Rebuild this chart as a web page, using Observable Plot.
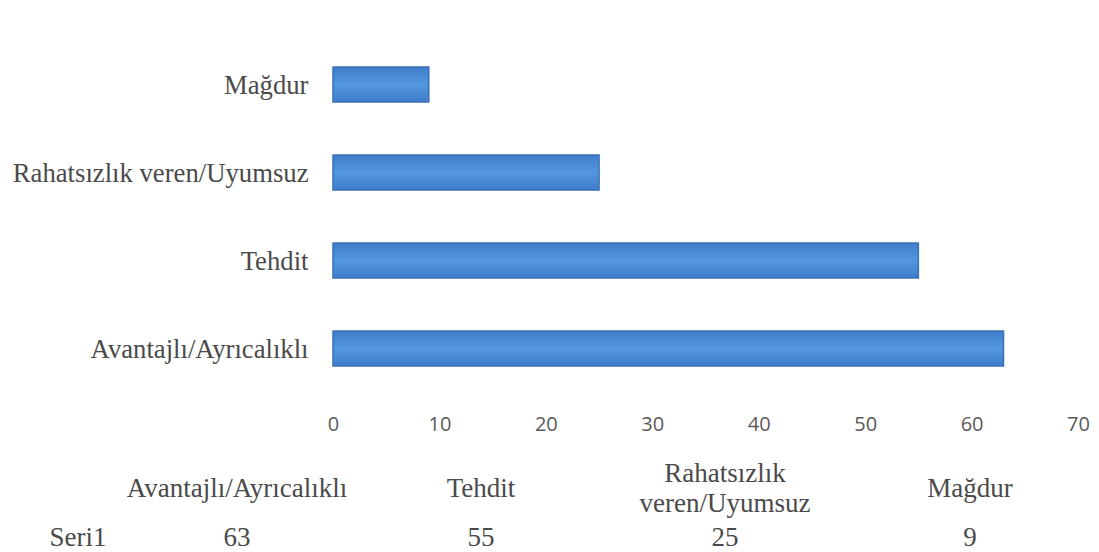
<!DOCTYPE html>
<html>
<head>
<meta charset="utf-8">
<script src="https://cdn.jsdelivr.net/npm/d3@7"></script>
<script src="https://cdn.jsdelivr.net/npm/@observablehq/plot@0.6"></script>
<style>
  body { margin: 0; background: #fff; }
  #wrap { position: relative; width: 1099px; height: 552px; overflow: hidden; }
  #chart svg g[aria-label="x-axis tick label"] { font-family: "Open Sans", sans-serif; font-size: 20px; fill: #595959; }
  #chart svg g[aria-label="y-axis tick label"] { font-family: "Liberation Serif", "DejaVu Serif", serif; font-size: 26.7px; fill: #4a4a4a; }
  #table { position: absolute; left: 0; top: 450px; width: 1099px; height: 102px;
           font-family: "Liberation Serif", "DejaVu Serif", serif; font-size: 27px; color: #4a4a4a; }
  #table .c { position: absolute; transform: translateX(-50%); text-align: center; line-height: 30px; white-space: nowrap; }
</style>
</head>
<body>
<div id="wrap">
  <div id="chart"></div>
  <div id="table"></div>
</div>
<script>
const categories = ["Avantajlı/Ayrıcalıklı", "Tehdit", "Rahatsızlık veren/Uyumsuz", "Mağdur"];
const values = [63, 55, 25, 9];
const seriesName = "Seri1";
const xTicks = [0, 10, 20, 30, 40, 50, 60, 70];
const tableHeaders = ["Avantajlı/Ayrıcalıklı", "Tehdit", "Rahatsızlık<br>veren/Uyumsuz", "Mağdur"];

const data = categories.map((c, i) => ({category: c, value: values[i]}));
const yOrder = categories.slice().reverse();

const chart = Plot.plot({
  width: 1099,
  height: 450,
  marginLeft: 333,
  marginRight: 21,
  marginTop: 40,
  marginBottom: 57,
  x: {domain: [0, 70], label: null},
  y: {domain: yOrder, label: null, paddingInner: 0.6, paddingOuter: 0.3},
  style: {background: "#fff"},
  marks: [
    Plot.barX(data, {x: "value", y: "category", fill: "url(#barGrad)", stroke: "#3a70b8", strokeWidth: 1.5}),
    Plot.axisX({ticks: xTicks, tickSize: 0, tickPadding: 23, label: null}),
    Plot.axisY({tickSize: 0, tickPadding: 25, label: null})
  ]
});

// vertical gradient for bars
const ns = "http://www.w3.org/2000/svg";
const defs = document.createElementNS(ns, "defs");
const grad = document.createElementNS(ns, "linearGradient");
grad.setAttribute("id", "barGrad");
grad.setAttribute("x1", "0"); grad.setAttribute("y1", "0");
grad.setAttribute("x2", "0"); grad.setAttribute("y2", "1");
[["0%", "#3e7cc9"], ["50%", "#5496e0"], ["100%", "#3e7cc9"]].forEach(([o, c]) => {
  const st = document.createElementNS(ns, "stop");
  st.setAttribute("offset", o); st.setAttribute("stop-color", c);
  grad.appendChild(st);
});
defs.appendChild(grad);
chart.insertBefore(defs, chart.firstChild);
document.getElementById("chart").appendChild(chart);

// Data table below chart
const table = document.getElementById("table");
const colCenters = [237, 481, 725, 970];
tableHeaders.forEach((h, i) => {
  const d = document.createElement("div");
  d.className = "c";
  d.style.left = colCenters[i] + "px";
  const twoLine = h.includes("<br>");
  d.style.top = (twoLine ? 8 : 23) + "px";
  d.innerHTML = h;
  table.appendChild(d);
});
const s = document.createElement("div");
s.className = "c";
s.style.left = "78px";
s.style.top = "72px";
s.textContent = seriesName;
table.appendChild(s);
values.forEach((v, i) => {
  const d = document.createElement("div");
  d.className = "c";
  d.style.left = colCenters[i] + "px";
  d.style.top = "72px";
  d.textContent = v;
  table.appendChild(d);
});
</script>
</body>
</html>
